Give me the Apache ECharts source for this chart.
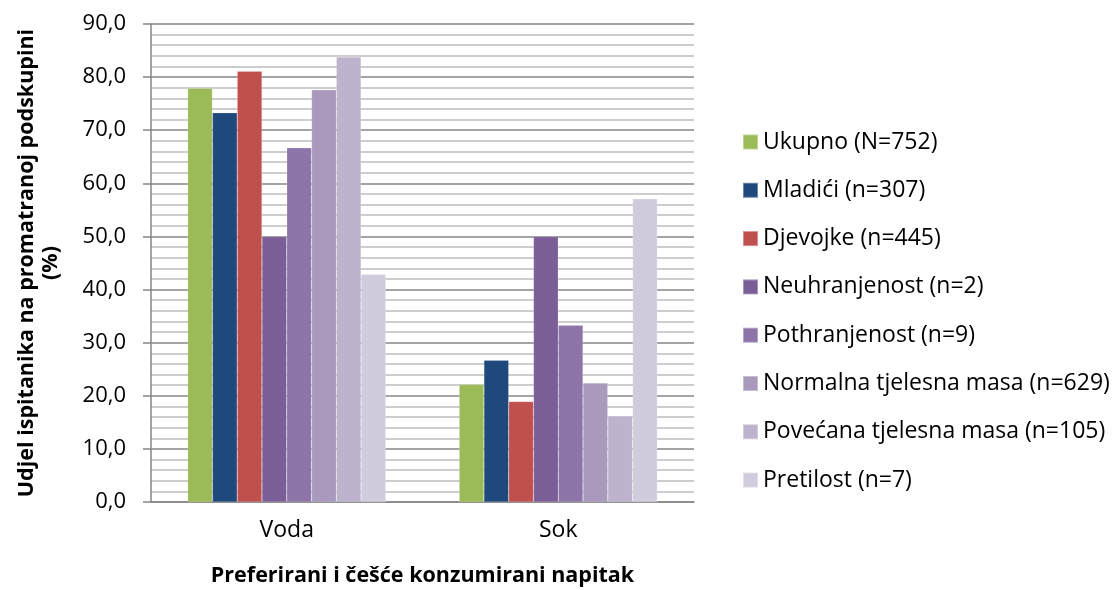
<!DOCTYPE html>
<html>
<head>
<meta charset="utf-8">
<script src="https://cdn.jsdelivr.net/npm/echarts@6/dist/echarts.min.js"></script>
<style>
  html, body { margin: 0; padding: 0; background: #fff; }
  #chart { width: 1113px; height: 590px; }
</style>
</head>
<body>
<div id="chart"></div>
<script>
// kategorije i serije
const categories = ['Voda', 'Sok']
const seriesNames = [
  'Ukupno (N=752)',
  'Mladići (n=307)',
  'Djevojke (n=445)',
  'Neuhranjenost (n=2)',
  'Pothranjenost (n=9)',
  'Normalna tjelesna masa (n=629)',
  'Povećana tjelesna masa (n=105)',
  'Pretilost (n=7)'
]
const ukupno = [77.9, 22.1]
const mladici = [73.3, 26.7]
const djevojke = [81.1, 18.9]
const neuhranjenost = [50.0, 50.0]
const pothranjenost = [66.7, 33.3]
const normalna = [77.6, 22.4]
const povecana = [83.8, 16.2]
const pretilost = [42.9, 57.1]

const values = [ukupno, mladici, djevojke, neuhranjenost, pothranjenost, normalna, povecana, pretilost]
const colors = ['#9BBB59', '#1F497D', '#C0504D', '#7B5E97', '#8D75AA', '#A99ABD', '#BEB3CD', '#D2CBDD']

const font = '"Open Sans", sans-serif'

const chart = echarts.init(document.getElementById('chart'))
chart.setOption({
  animation: false,
  color: colors,
  grid: { left: 151, top: 24, right: 419, bottom: 88, outerBoundsMode: 'none' },
  legend: {
    orient: 'vertical',
    left: 737,
    top: 125,
    itemWidth: 15,
    itemHeight: 15,
    itemGap: 24.3,
    icon: 'rect',
    textStyle: { fontFamily: font, fontSize: 23, color: '#000', lineHeight: 24 },
    data: seriesNames
  },
  xAxis: {
    type: 'category',
    data: categories,
    name: 'Preferirani i češće konzumirani napitak',
    nameLocation: 'middle',
    nameGap: 63,
    nameTextStyle: { fontFamily: font, fontSize: 21.5, fontWeight: 'bold', color: '#000' },
    axisLine: { lineStyle: { color: '#868686', width: 1.5 } },
    axisTick: { show: false },
    axisLabel: { fontFamily: font, fontSize: 23, color: '#000', margin: 17 }
  },
  yAxis: {
    type: 'value',
    min: 0,
    max: 90,
    interval: 10,
    name: 'Udjel ispitanika na promatranoj podskupini\n(%)',
    nameLocation: 'middle',
    nameGap: 88,
    nameTextStyle: { fontFamily: font, fontSize: 21.5, fontWeight: 'bold', color: '#000', lineHeight: 24 },
    axisLine: { show: true, lineStyle: { color: '#868686', width: 1.5 } },
    axisTick: { show: true, length: 8, lineStyle: { color: '#868686', width: 1.5 } },
    axisLabel: {
      fontFamily: font, fontSize: 22, color: '#000', margin: 25,
      formatter: v => v.toFixed(1).replace('.', ',')
    },
    splitLine: { lineStyle: { color: '#868686', width: 1.5 } },
    minorTick: { show: false, splitNumber: 5 },
    minorSplitLine: { show: true, lineStyle: { color: '#BDBDBD', width: 1.5 } }
  },
  series: seriesNames.map((name, i) => ({
    name: name,
    type: 'bar',
    data: values[i],
    barGap: '0%',
    barCategoryGap: '27%',
    itemStyle: { borderColor: 'rgba(255,255,255,0.35)', borderWidth: 0.5 }
  }))
})
</script>
</body>
</html>
